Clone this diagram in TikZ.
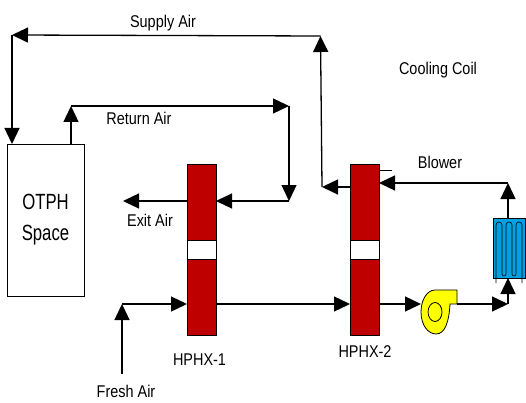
\documentclass[tikz,border=0pt]{standalone}
\usepackage{fontspec}
\setmainfont{Liberation Sans}
\usetikzlibrary{arrows.meta, positioning, shapes.geometric}
\tikzset{
    flow/.style={line width=1.3pt, -{Triangle[length=16pt, width=15pt]}},
    hpcol/.style={draw=black, fill=red!75!black, line width=0.8pt, minimum width=29pt, minimum height=171pt, inner sep=0pt, outer sep=0pt},
    hpgap/.style={draw=black, fill=white, line width=0.8pt, minimum width=29pt, minimum height=19pt, inner sep=0pt, outer sep=0pt},
    lbl/.style={inner sep=0pt, font=\fontsize{17}{19}\selectfont, xscale=0.85, transform shape},
}
\definecolor{coilblue}{RGB}{0,160,225}
\definecolor{fanyellow}{RGB}{255,255,0}
\begin{document}
\begin{tikzpicture}[x=1pt, y=-1pt]
    \useasboundingbox (0,0) rectangle (526,403);

    % Space and the two heat exchangers
    \node[draw=black, line width=0.8pt, minimum width=77pt, minimum height=152pt, inner sep=0pt, outer sep=0pt] (space) at (45.5,220) {};
    \node[inner sep=0pt, align=center, font=\fontsize{22}{31}\selectfont, xscale=0.76, transform shape] (spacetxt) at (45.5,220) {OTPH\\Space};
    \node[hpcol] (hpxa) at (201.5,249.5) {};
    \node[hpgap] (gapa) at (201.5,249.5) {};
    \node[hpcol] (hpxb) at (364.5,249.5) {};
    \node[hpgap] (gapb) at (364.5,249.5) {};

    % Coil
    \node[draw=black, fill=coilblue, line width=0.8pt, minimum width=32pt, minimum height=60pt, inner sep=0pt, outer sep=0pt] (coil) at (509,248) {};
    \draw[line width=0.6pt] (496,283) -- (496,225) arc[start angle=180, end angle=0, radius=3pt] -- (502,274) arc[start angle=180, end angle=360, radius=2pt] -- (506,225) arc[start angle=180, end angle=0, radius=3pt] -- (512,274) arc[start angle=180, end angle=360, radius=2pt] -- (516,225) arc[start angle=180, end angle=0, radius=3pt] -- (522,283);

    % Blower
    \draw[line width=0.8pt, fill=fanyellow] (457,290) -- (435,290) .. controls (427,290) and (421,300) .. (421,312) .. controls (421,325) and (428,334) .. (436,334) .. controls (445,334) and (449,322) .. (450,304) -- (457,304) -- cycle;
    \node[draw=black, ellipse, line width=0.8pt, minimum width=14pt, minimum height=19pt, inner sep=0pt, outer sep=0pt] (fan) at (435,312) {};
    \coordinate (fanin) at (421,304);
    \coordinate (fanout) at (457,304);

    % Junctions
    \coordinate (supa) at (320.5,36);
    \coordinate (supb) at (12,35);
    \coordinate (reta) at (71,106);
    \coordinate (retb) at (289,106);
    \coordinate (retc) at (289,201);
    \coordinate (exit) at (123,201);
    \coordinate (fresha) at (122,374);
    \coordinate (freshb) at (122,304);
    \coordinate (outb) at (322,187);
    \coordinate (turna) at (508,304);
    \coordinate (turnb) at (508,183);
    \coordinate (tick) at (392,170);

    % Supply air
    \draw[flow] (outb -| hpxb.west) -- (outb);
    \draw[flow] (outb) -- (supa);
    \draw[flow] (supa) -- (supb);
    \draw[flow] (supb) -- (supb |- space.north);

    % Return air
    \draw[flow] (reta |- space.north) -- (reta);
    \draw[flow] (reta) -- (retb);
    \draw[flow] (retb) -- (retc);
    \draw[flow] (retc) -- (retc -| hpxa.east);
    \draw[flow] (retc -| hpxa.west) -- (exit);

    % Fresh air through to the coil
    \draw[flow] (fresha) -- (freshb);
    \draw[flow] (freshb) -- (freshb -| hpxa.west);
    \draw[flow] (freshb -| hpxa.east) -- (freshb -| hpxb.west);
    \draw[flow] (freshb -| hpxb.east) -- (fanin);
    \draw[flow] (fanout) -- (turna);
    \draw[flow] (turna) -- (turna |- coil.south);
    \draw[flow] (turna |- coil.north) -- (turnb);
    \draw[flow] (turnb) -- (turnb -| hpxb.east);
    \draw[line width=0.6pt] (tick -| hpxb.east) -- (tick);

    % Labels
    \node[lbl] (supplytxt) at (163,23) {Supply Air};
    \node[lbl] (returntxt) at (139,118) {Return Air};
    \node[lbl] (exittxt) at (150,220) {Exit Air};
    \node[lbl] (freshtxt) at (126,391) {Fresh Air};
    \node[lbl] (hpxatxt) at (199.5,360) {HPHX-1};
    \node[lbl] (hpxbtxt) at (365,352) {HPHX-2};
    \node[lbl] (blowertxt) at (440,162) {Blower};
    \node[lbl] (cooltxt) at (438,70) {Cooling Coil};
\end{tikzpicture}
\end{document}
